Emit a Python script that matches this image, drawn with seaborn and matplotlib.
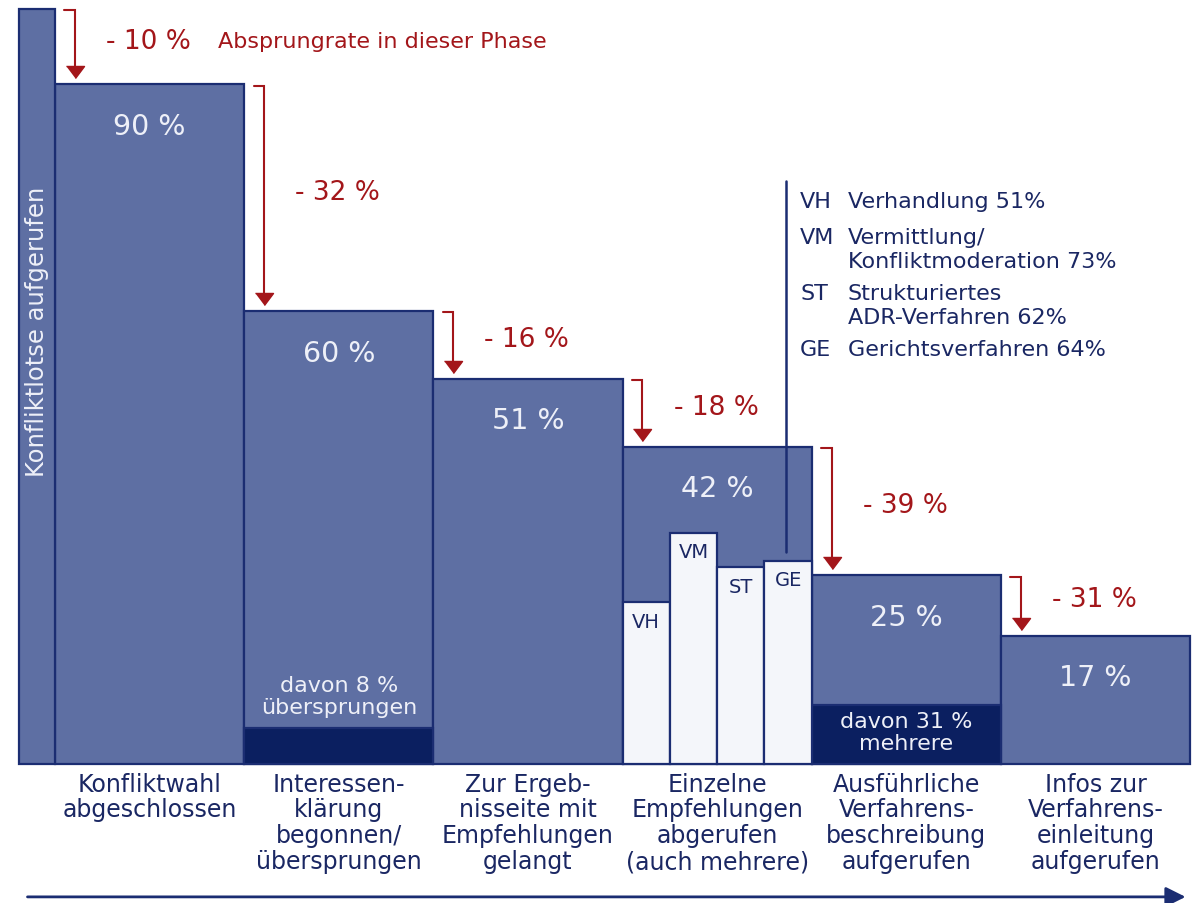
import matplotlib
matplotlib.use("Agg")
import matplotlib.pyplot as plt
import seaborn as sns
import pandas as pd

# ---------------- data ----------------
stages = [
    "Konfliktwahl\nabgeschlossen",
    "Interessen-\nklärung\nbegonnen/\nübersprungen",
    "Zur Ergeb-\nnisseite mit\nEmpfehlungen\ngelangt",
    "Einzelne\nEmpfehlungen\nabgerufen\n(auch mehrere)",
    "Ausführliche\nVerfahrens-\nbeschreibung\naufgerufen",
    "Infos zur\nVerfahrens-\neinleitung\naufgerufen",
]
shares = [90, 60, 51, 42, 25, 17]          # % of users reaching each stage
start_share = 100                          # Konfliktlotse aufgerufen
start_label = "Konfliktlotse aufgerufen"
dropoff = [10, 32, 16, 18, 39, 31]         # drop-off rate per phase (%)
dropoff_note = "Absprungrate in dieser Phase"

skipped_pct = 8        # of stage 2 (index 1)
multiple_pct = 31      # of stage 5 (index 4)

proc_codes = ["VH", "VM", "ST", "GE"]
proc_pct = [51, 73, 62, 64]                # share within stage 4 (index 3)
proc_names = ["Verhandlung 51%", "Vermittlung/\nKonfliktmoderation 73%",
              "Strukturiertes\nADR-Verfahren 62%", "Gerichtsverfahren 64%"]

# ---------------- style ----------------
sns.set_theme(style="white")
plt.rcParams["font.family"] = ["DejaVu Sans"]

FILL = "#5E6FA3"
EDGE = "#1B2D72"
DARK = "#0B1F60"
LIGHT = "#F4F6FA"
RED = "#A3161A"
NAVY = "#1A2763"
SOFTWHITE = "#EEF0F8"

fig = plt.figure(figsize=(11.95, 9.04), dpi=100)
ax = fig.add_axes([0, 0, 1, 1])

df = pd.DataFrame({"stage": stages, "share": shares})
sns.barplot(data=df, x="stage", y="share", width=1.0, color=FILL,
            saturation=1, edgecolor=EDGE, linewidth=1.6, ax=ax, zorder=2)

# narrow start bar
ax.bar(-0.595, start_share, width=0.19, color=FILL, edgecolor=EDGE,
       linewidth=1.6, zorder=2)
ax.text(-0.595, 57.3, start_label, rotation=90, ha="center", va="center",
        color=SOFTWHITE, fontsize=17.5, zorder=5)

# dark sub bars
ax.bar(1, shares[1] * skipped_pct / 100, width=1.0, color=DARK,
       edgecolor=EDGE, linewidth=1.6, zorder=3)
ax.bar(4, shares[4] * multiple_pct / 100, width=1.0, color=DARK,
       edgecolor=EDGE, linewidth=1.6, zorder=3)
ax.text(1, 9.0, f"davon {skipped_pct} %\nübersprungen", ha="center",
        va="center", color=SOFTWHITE, fontsize=16, linespacing=1.12, zorder=5)
ax.text(4, 4.2, f"davon {multiple_pct} %\nmehrere", ha="center",
        va="center", color=SOFTWHITE, fontsize=16, linespacing=1.12, zorder=5)

# white procedure bars inside stage 4
offs = [-0.375, -0.125, 0.125, 0.375]
proc_h = [shares[3] * p / 100 for p in proc_pct]
for o, h, code in zip(offs, proc_h, proc_codes):
    ax.bar(3 + o, h, width=0.25, color=LIGHT, edgecolor=EDGE,
           linewidth=1.6, zorder=3)
    ax.text(3 + o, h - 2.5, code, ha="center", va="center", color=NAVY,
            fontsize=14, zorder=5)

# value labels
for i, s in enumerate(shares):
    ax.text(i, s - 5.5, f"{s} %", ha="center", va="center",
            color=SOFTWHITE, fontsize=20.5, zorder=5)

# red drop-off arrows
prev_tops = [start_share] + shares[:-1]
for i, (d, top, nxt) in enumerate(zip(dropoff, prev_tops, shares)):
    x = i - 0.5 + 0.105
    tip_c = nxt + 1.6
    ax.plot([x - 0.055, x, x], [top - 0.2, top - 0.2, tip_c], color=RED,
            lw=1.5, zorder=6, solid_joinstyle="miter")
    ax.plot([x], [tip_c], marker=[(-9, 6), (9, 6), (0, -6)], markersize=13,
            color=RED, zorder=6, lw=0)
    ax.text(x + 0.165, (top + nxt) / 2 + 0.8, f"- {d} %", ha="left",
            va="center", color=RED, fontsize=19, zorder=6)
ax.text(0.362, (prev_tops[0] + shares[0]) / 2 + 0.8, dropoff_note, ha="left",
        va="center", color=RED, fontsize=16, zorder=6)

# legend for procedures
lx = 3.364
ax.plot([lx, lx], [proc_h[3] + 1.2, 77.2], color=EDGE, lw=1.8, zorder=4)
for code, name, y in zip(proc_codes, proc_names, [74.6, 69.8, 62.4, 55.0]):
    ax.text(3.438, y, code, ha="left", va="center", color=NAVY, fontsize=16)
    first, *rest = name.split("\n")
    ax.text(3.69, y, first, ha="left", va="center", color=NAVY, fontsize=16)
    for k, r in enumerate(rest):
        ax.text(3.69, y - 3.2 * (k + 1), r, ha="left", va="center",
                color=NAVY, fontsize=16)

# stage labels
for i, lab in enumerate(stages):
    ax.text(i, -1.0, lab, ha="center", va="top", color=NAVY, fontsize=17,
            linespacing=1.1)

# bottom time arrow
ax.annotate("", xy=(5.49, -17.6), xytext=(-0.66, -17.6),
            arrowprops=dict(arrowstyle="-|>,head_length=0.6,head_width=0.3",
                            color=EDGE, lw=2, mutation_scale=20))

ax.set_xlim(-0.7907, 5.5254)
ax.set_ylim(-18.41, 101.32)
ax.axis("off")

fig.savefig("out.png", dpi=100, facecolor="white")
